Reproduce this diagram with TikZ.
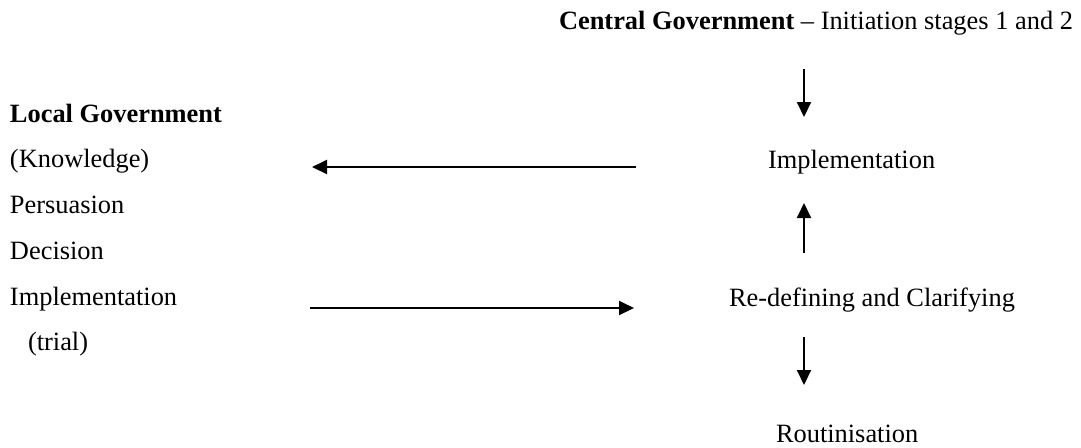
\documentclass[tikz,border=0pt]{standalone}
\usepackage{fontspec}
\setmainfont{Liberation Serif}
\usetikzlibrary{positioning,arrows.meta}

\begin{document}
\begin{tikzpicture}[x=0.5pt, y=-0.5pt, >={Triangle[length=7.5pt, width=7pt]}, line width=1pt]
\tikzstyle{txt}=[inner sep=0pt, font=\fontsize{13.2}{15}\selectfont]
\useasboundingbox (0,0) rectangle (1081,447);

% Local government column
\node[txt, anchor=base west] (lg) at (9,122) {\textbf{Local Government}};
\node[txt, anchor=base west] (kn) at (9,167) {(Knowledge)};
\node[txt, anchor=base west] (pe) at (9,213) {Persuasion};
\node[txt, anchor=base west] (de) at (9,259) {Decision};
\node[txt, anchor=base west] (li) at (9,305) {Implementation};
\node[txt, anchor=base west] (tr) at (27,350) {(trial)};

% Central government column
\node[txt, anchor=base west] (cg) at (558,29) {\textbf{Central Government} -- Initiation stages 1 and 2};
\node[txt, anchor=base west] (ci) at (767,168) {Implementation};
\node[txt, anchor=base west] (rc) at (728,306) {Re-defining and Clarifying};
\node[txt, anchor=base west] (ro) at (775,442) {Routinisation};

% Arrow ends
\coordinate (a1) at (804,69);  \coordinate (a2) at (804,117);
\coordinate (b1) at (636,167); \coordinate (b2) at (312,167);
\coordinate (c1) at (804,253); \coordinate (c2) at (804,203);
\coordinate (d1) at (310,308); \coordinate (d2) at (634,308);
\coordinate (e1) at (804,337); \coordinate (e2) at (804,385);

% Arrows
\draw[->] (a1) -- (a2);
\draw[->] (b1) -- (b2);
\draw[->] (c1) -- (c2);
\draw[->] (d1) -- (d2);
\draw[->] (e1) -- (e2);
\end{tikzpicture}
\end{document}
